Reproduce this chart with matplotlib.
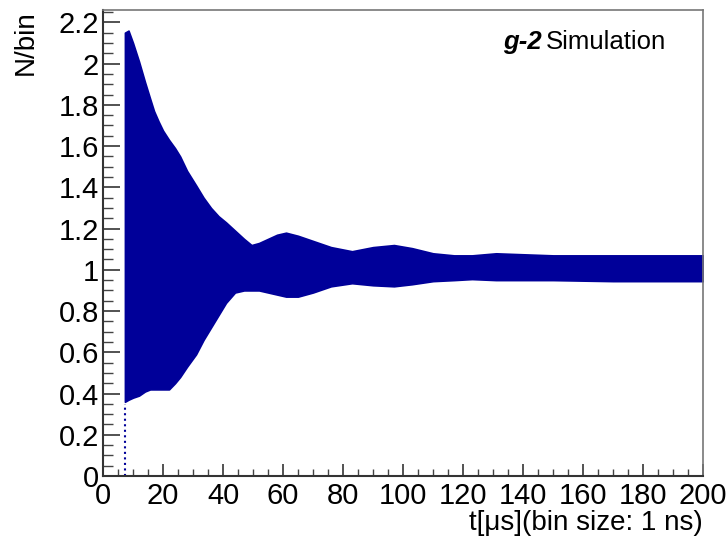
import matplotlib
matplotlib.use("Agg")
import matplotlib.pyplot as plt
from matplotlib.ticker import MultipleLocator

plt.rcParams['font.family'] = ['Liberation Sans', 'DejaVu Sans']

# envelope of the g-2 wiggle histogram
t_us = [7.3, 8.5, 10, 12, 14, 15.7, 17, 18.5, 20, 22, 24, 25.7, 28, 31, 33.5,
        36, 38.5, 41, 44, 47, 49.5, 52, 55, 58, 61, 65, 70, 76, 83, 90, 97,
        103, 110, 117, 123, 131, 150, 170, 200]
upper = [2.15, 2.16, 2.10, 2.01, 1.91, 1.83, 1.77, 1.72, 1.675, 1.63, 1.59, 1.55,
         1.48, 1.41, 1.35, 1.30, 1.26, 1.23, 1.19, 1.15, 1.12, 1.13, 1.15, 1.17,
         1.18, 1.165, 1.14, 1.11, 1.09, 1.11, 1.12, 1.105, 1.08, 1.07, 1.07,
         1.08, 1.07, 1.07, 1.07]
lower = [0.36, 0.37, 0.38, 0.39, 0.41, 0.42, 0.42, 0.42, 0.42, 0.42, 0.45, 0.48,
         0.53, 0.59, 0.66, 0.72, 0.78, 0.84, 0.89, 0.90, 0.90, 0.90, 0.89, 0.88,
         0.87, 0.87, 0.89, 0.92, 0.935, 0.925, 0.92, 0.93, 0.945, 0.95, 0.955,
         0.95, 0.95, 0.945, 0.945]
start_t = 7.3
start_low = 0.35

col = '#000099'

fig = plt.figure(figsize=(7.27, 5.4), dpi=100)
ax = fig.add_axes([0.1417, 0.1185, 0.8253, 0.863])

ax.fill_between(t_us, lower, upper, color=col, lw=1.2, edgecolor=col)
ax.vlines(start_t, 0, start_low, colors=col, linestyles=':', lw=1.5)

ax.set_xlim(0, 200)
ax.set_ylim(0, 2.26)
ax.xaxis.set_major_locator(MultipleLocator(20))
ax.xaxis.set_minor_locator(MultipleLocator(5))
ax.yaxis.set_major_locator(MultipleLocator(0.2))
ax.yaxis.set_minor_locator(MultipleLocator(0.05))
ax.yaxis.set_major_formatter(plt.FuncFormatter(lambda v, p: ('%g' % round(v, 2))))

ax.tick_params(axis='both', which='both', direction='in', colors='#444444',
               labelcolor='black', labelsize=21)
ax.tick_params(axis='y', which='major', length=12, width=1.3, pad=3)
ax.tick_params(axis='y', which='minor', length=7, width=1.0)
ax.tick_params(axis='x', which='major', length=9, width=1.3, pad=4)
ax.tick_params(axis='x', which='minor', length=5, width=1.0)

for s in ['left', 'bottom']:
    ax.spines[s].set_color('#333333')
    ax.spines[s].set_linewidth(1.5)
for s in ['top', 'right']:
    ax.spines[s].set_color('#777777')
    ax.spines[s].set_linewidth(1.2)

ax.set_xlabel('t[μs](bin size: 1 ns)', fontsize=20, loc='right', labelpad=0)
ax.set_ylabel('N/bin', fontsize=20, loc='top', labelpad=14)

ax.text(0.667, 0.931, 'g-2', transform=ax.transAxes, fontsize=18.5,
        fontweight='bold', fontstyle='italic', ha='left', va='center')
ax.text(0.738, 0.931, 'Simulation', transform=ax.transAxes, fontsize=18.5,
        ha='left', va='center')

fig.savefig('out.png', dpi=100)
